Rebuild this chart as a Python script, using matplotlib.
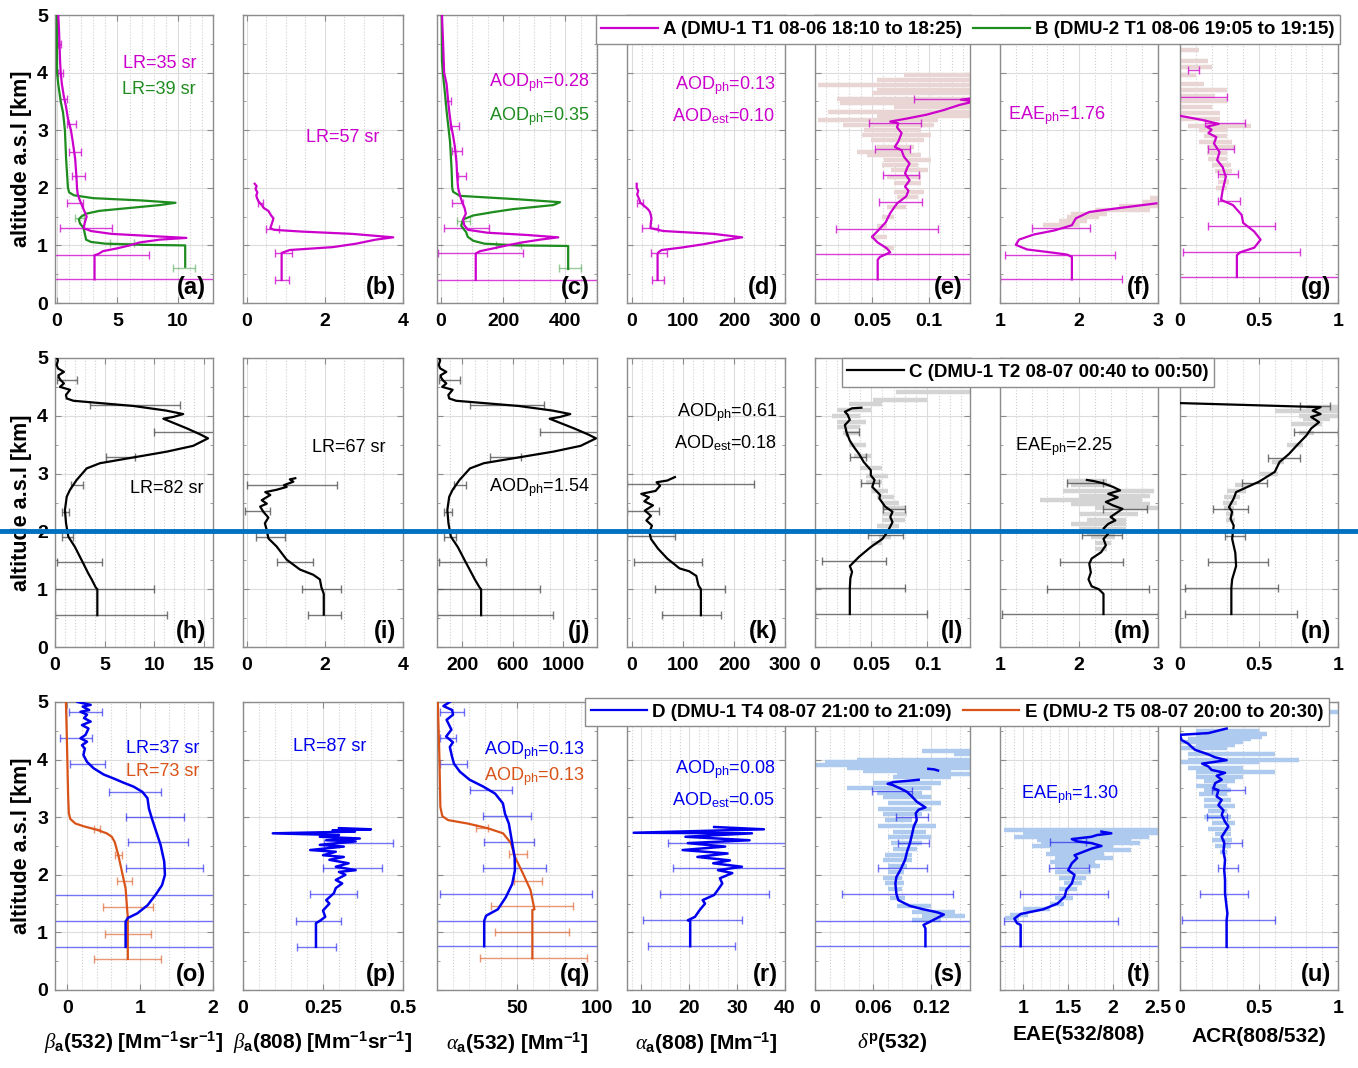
import numpy as np
import matplotlib
matplotlib.use('Agg')
import matplotlib.pyplot as plt
from matplotlib.ticker import AutoMinorLocator, MultipleLocator, FuncFormatter
from matplotlib.lines import Line2D

plt.rcParams['font.family'] = 'Liberation Sans'
plt.rcParams['font.weight'] = 'bold'
plt.rcParams['mathtext.fontset'] = 'custom'
plt.rcParams['mathtext.rm'] = 'Liberation Sans:bold'
plt.rcParams['mathtext.sf'] = 'Liberation Sans:normal'
plt.rcParams['mathtext.it'] = 'Liberation Serif:italic:normal'
plt.rcParams['mathtext.bf'] = 'Liberation Sans:bold'

MAG = '#CC00CC'
GRN = '#1E8C1E'
BLU = '#0000EE'
ORG = '#D95319'
PINK = '#EAD5D5'
GREY = '#D4D4D4'
LBLU = '#AECBEF'

# ---------------- row 1 : A (magenta) and B (green) ----------------
a_alt_A = [0.41, 0.83, 0.85, 0.90, 0.95, 1.00, 1.05, 1.10, 1.13, 1.16, 1.20, 1.25, 1.30, 1.40, 1.50, 1.60, 1.70, 1.80, 1.90, 2.00, 2.20, 2.50, 2.80, 3.00, 3.20, 3.40, 3.60, 3.80, 4.00, 4.20, 4.50, 4.80, 5.00]
a_val_A = [3.1, 3.1, 3.4, 3.8, 5.0, 6.0, 6.8, 8.5, 10.7, 8.0, 4.5, 2.8, 2.2, 2.3, 2.45, 2.25, 2.05, 1.85, 1.7, 1.65, 1.6, 1.5, 1.3, 1.15, 0.9, 0.75, 0.55, 0.4, 0.3, 0.25, 0.2, 0.15, 0.1]
a_alt_B = [0.63, 1.00, 1.01, 1.03, 1.06, 1.10, 1.20, 1.30, 1.38, 1.45, 1.50, 1.55, 1.60, 1.65, 1.70, 1.74, 1.78, 1.82, 1.87, 1.92, 2.00, 2.50, 3.00, 3.30, 3.50, 3.80, 4.00, 4.50, 5.00]
a_val_B = [10.6, 10.6, 7.0, 4.0, 2.8, 2.4, 2.3, 2.2, 1.9, 1.8, 2.0, 2.4, 3.5, 6.0, 8.5, 9.8, 7.0, 3.0, 1.4, 1.0, 0.9, 0.75, 0.65, 0.5, 0.3, 0.1, 0.0, 0.0, 0.0]
a_err_alt_A = [0.41, 0.83, 1.30, 1.74, 2.20, 2.63, 3.10, 3.55, 4.00, 4.50]
a_err_lo_A = [-5, -0.3, 0.25, 0.8, 1.21, 0.96, 0.8, 0.25, 0.1, 0.05]
a_err_hi_A = [20, 7.6, 4.52, 2.12, 2.31, 1.96, 1.6, 0.8, 0.5, 0.3]
a_err_alt_B = [0.60, 1.04, 1.48]
a_err_lo_B = [9.6, 4.4, 1.5]
a_err_hi_B = [11.4, 6.4, 2.2]

b_alt = [0.40, 0.87, 0.92, 0.97, 1.03, 1.10, 1.14, 1.20, 1.24, 1.27, 1.30, 1.40, 1.47, 1.52, 1.60, 1.65, 1.70, 1.76, 1.82, 1.87, 1.92, 1.98, 2.03, 2.07]
b_val = [0.89, 0.89, 1.1, 2.2, 2.8, 3.3, 3.75, 2.7, 1.4, 0.7, 0.6, 0.65, 0.68, 0.62, 0.55, 0.43, 0.38, 0.3, 0.26, 0.24, 0.27, 0.22, 0.25, 0.2]
b_err_alt = [0.40, 0.87, 1.28, 1.73]
b_err_lo = [0.72, 0.72, 0.5, 0.28]
b_err_hi = [1.08, 1.15, 0.82, 0.4]

c_alt_A = [0.40, 0.86, 0.90, 0.95, 1.00, 1.05, 1.10, 1.14, 1.18, 1.22, 1.27, 1.35, 1.45, 1.55, 1.65, 1.75, 1.85, 2.00, 2.20, 2.43, 2.70, 2.90, 3.10, 3.30, 3.50, 3.80, 4.00, 4.30, 4.60, 5.00]
c_val_A = [112, 112, 126, 170, 212, 260, 319, 378, 280, 150, 87, 75, 71, 80, 76, 68, 62, 55, 52, 50, 45, 39, 32, 27, 23, 18, 10, 8, 6, 3]
c_alt_B = [0.59, 0.99, 1.00, 1.03, 1.08, 1.15, 1.23, 1.34, 1.45, 1.52, 1.58, 1.63, 1.70, 1.75, 1.80, 1.86, 1.93, 2.00, 2.33, 2.80, 3.33, 3.62, 3.88, 4.20, 5.00]
c_val_B = [410, 410, 250, 140, 104, 86, 81, 65, 71, 104, 170, 233, 362, 384, 250, 61, 39, 36, 34, 29, 18, 13, 8, 3, 2]
c_err_alt_A = [0.40, 0.86, 1.30, 1.74, 2.20, 2.64, 3.07, 3.50]
c_err_lo_A = [-50, -10, 11, 34, 56, 34, 29, 13]
c_err_hi_A = [600, 265, 155, 72, 81, 67, 58, 31]
c_err_alt_B = [0.60, 1.00, 1.43]
c_err_lo_B = [380, 178, 52]
c_err_hi_B = [450, 257, 95]

d_alt = [0.40, 0.86, 0.89, 0.92, 0.96, 1.02, 1.10, 1.14, 1.20, 1.25, 1.30, 1.40, 1.46, 1.52, 1.58, 1.63, 1.70, 1.74, 1.80, 1.88, 1.95, 2.00, 2.07]
d_val = [50, 50, 53, 58, 95, 140, 187, 216, 160, 61, 36, 37, 38, 37, 35, 31, 22, 16, 14, 10, 12, 9, 9]
d_err_alt = [0.40, 0.86, 1.30, 1.74]
d_err_lo = [39, 38, 20, 10]
d_err_hi = [62, 68, 50, 22]

e_alt = [0.41, 0.75, 0.80, 0.88, 0.95, 1.05, 1.15, 1.25, 1.40, 1.56, 1.73, 1.85, 1.95, 2.02, 2.13, 2.25, 2.35, 2.42, 2.54, 2.65, 2.71, 2.80, 2.95, 3.05, 3.12, 3.15, 3.20, 3.27, 3.35, 3.44, 3.50, 3.53, 3.56]
e_val = [0.055, 0.055, 0.057, 0.066, 0.063, 0.055, 0.050, 0.055, 0.062, 0.066, 0.072, 0.080, 0.082, 0.079, 0.083, 0.079, 0.081, 0.083, 0.078, 0.076, 0.070, 0.073, 0.076, 0.072, 0.073, 0.066, 0.080, 0.098, 0.113, 0.127, 0.140, 0.128, 0.140]
e_err_alt = [0.41, 0.85, 1.29, 1.75, 2.22, 2.67, 3.13, 3.54]
e_err_lo = [-1, -1, 0.018, 0.056, 0.060, 0.053, 0.047, 0.087]
e_err_hi = [1, 1, 0.108, 0.094, 0.091, 0.083, 0.093, 0.2]
e_sh_alt = [0.95, 1.15, 1.33, 1.50, 1.67, 1.84, 1.93, 2.08, 2.19, 2.31, 2.40, 2.48, 2.57, 2.63, 2.71, 2.83, 2.92, 3.00, 3.09, 3.18, 3.24, 3.32, 3.41, 3.47, 3.55, 3.64, 3.70, 3.78, 3.87, 3.96]
e_sh_lo = [0.0605, 0.0487, 0.0546, 0.059, 0.0634, 0.0723, 0.0693, 0.0693, 0.0634, 0.0664, 0.059, 0.0605, 0.0457, 0.0369, 0.0546, 0.0487, 0.0413, 0.0428, 0.025, 0.003, 0.0546, 0.0118, 0.0693, 0.022, 0.019, 0.050, 0.0546, 0.003, 0.0546, 0.078]
e_sh_hi = [0.0693, 0.0634, 0.0634, 0.0693, 0.0796, 0.090, 0.0959, 0.093, 0.093, 0.099, 0.090, 0.1018, 0.093, 0.0841, 0.087, 0.0959, 0.1018, 0.093, 0.1047, 0.1077, 0.14, 0.14, 0.14, 0.14, 0.14, 0.14, 0.14, 0.14, 0.14, 0.14]

f_alt = [0.41, 0.80, 0.84, 0.87, 0.93, 1.01, 1.10, 1.19, 1.26, 1.35, 1.47, 1.58, 1.64, 1.73]
f_val = [1.91, 1.91, 1.85, 1.69, 1.34, 1.20, 1.24, 1.43, 1.69, 1.91, 1.96, 2.13, 2.46, 2.98]
f_err_alt = [0.41, 0.84, 1.31]
f_err_lo = [1.0, 1.06, 1.41]
f_err_hi = [2.54, 2.45, 2.14]
f_sh_alt = [1.36, 1.42, 1.50, 1.55, 1.62, 1.68, 1.75, 1.83]
f_sh_lo = [1.55, 1.75, 1.85, 1.9, 2.2, 2.5, 2.8, 2.9]
f_sh_hi = [2.0, 2.1, 2.25, 2.35, 2.9, 3.0, 3.0, 3.0]

g_alt = [0.45, 0.83, 0.88, 0.96, 1.10, 1.24, 1.39, 1.53, 1.70, 1.79, 1.96, 2.19, 2.36, 2.48, 2.62, 2.77, 2.88, 2.95, 3.01, 3.06, 3.11, 3.18, 3.25]
g_val = [0.36, 0.36, 0.38, 0.47, 0.51, 0.47, 0.40, 0.39, 0.335, 0.26, 0.27, 0.29, 0.27, 0.235, 0.25, 0.215, 0.23, 0.18, 0.20, 0.17, 0.245, 0.137, 0.0]
g_err_alt = [0.45, 0.88, 1.33, 1.77, 2.24, 2.67, 3.12, 3.58, 4.05]
g_err_lo = [-1, 0.02, 0.18, 0.24, 0.24, 0.18, 0.16, 0.0, 0.05]
g_err_hi = [2, 0.76, 0.60, 0.38, 0.37, 0.34, 0.41, 0.30, 0.12]
g_sh_alt = [2.0, 2.1, 2.2, 2.3, 2.4, 2.5, 2.6, 2.7, 2.8, 2.9, 3.0, 3.07, 3.2, 3.3, 3.4, 3.5, 3.6, 3.7, 3.8, 3.96, 4.1, 4.2, 4.4, 4.7, 4.85]
g_sh_lo = [0.23, 0.24, 0.25, 0.22, 0.20, 0.18, 0.17, 0.17, 0.12, 0.15, 0.12, 0.05, 0, 0, 0, 0, 0, 0, 0, 0, 0, 0, 0, 0, 0]
g_sh_hi = [0.30, 0.31, 0.30, 0.33, 0.32, 0.30, 0.30, 0.35, 0.33, 0.30, 0.30, 0.45, 0.25, 0.25, 0.20, 0.30, 0.22, 0.30, 0.15, 0.10, 0.20, 0.18, 0.12, 0.10, 0.12]

# ---------------- row 2 : C (black) ----------------
h_alt = [0.55, 1.00, 1.03, 1.17, 1.27, 1.50, 1.73, 1.91, 2.14, 2.37, 2.60, 2.72, 2.89, 3.09, 3.18, 3.28, 3.38, 3.48, 3.61, 3.68, 3.78, 3.90, 3.95, 3.98, 4.03, 4.09, 4.17, 4.22, 4.26, 4.30, 4.36, 4.45, 4.50, 4.56, 4.62, 4.66, 4.70, 4.76, 4.82, 4.88, 4.96, 5.00]
h_val = [4.26, 4.26, 4.1, 3.69, 3.36, 2.69, 2.01, 1.34, 1.11, 1.0, 1.18, 1.51, 2.18, 3.19, 4.53, 7.9, 11.25, 13.9, 15.4, 14.6, 13.3, 11.6, 10.9, 11.9, 12.9, 11.2, 7.9, 4.53, 1.85, 1.18, 1.1, 1.51, 0.5, 0.9, 0.55, 0.4, 0.34, 0.9, 0.3, 0.17, 0.3, 0.2]
h_err_alt = [0.55, 1.00, 1.47, 1.91, 2.34, 2.80, 3.28, 3.72, 4.19, 4.62]
h_err_lo = [0, 0, 0.2, 0.7, 0.7, 1.6, 5.1, 10.0, 3.5, 0.2]
h_err_hi = [11.25, 10.0, 4.7, 1.8, 1.45, 2.8, 8.1, 16.5, 12.6, 2.2]

i_alt = [0.56, 0.92, 1.03, 1.17, 1.25, 1.34, 1.51, 1.74, 1.88, 2.02, 2.14, 2.24, 2.34, 2.43, 2.48, 2.54, 2.63, 2.68, 2.72, 2.77, 2.80, 2.86, 2.90, 2.92]
i_val = [1.97, 1.97, 1.91, 1.87, 1.70, 1.36, 1.02, 0.76, 0.55, 0.51, 0.46, 0.55, 0.42, 0.34, 0.51, 0.38, 0.60, 0.47, 0.76, 1.02, 0.95, 1.19, 1.10, 1.24]
i_err_alt = [0.56, 1.00, 1.47, 1.91, 2.36, 2.81]
i_err_lo = [1.57, 1.42, 0.76, 0.24, -0.05, 0.0]
i_err_hi = [2.4, 2.4, 1.7, 0.97, 0.6, 2.3]

j_alt = [0.55, 1.00, 1.03, 1.17, 1.27, 1.50, 1.73, 1.91, 2.14, 2.37, 2.60, 2.72, 2.89, 3.09, 3.18, 3.28, 3.38, 3.48, 3.61, 3.68, 3.78, 3.90, 3.95, 3.98, 4.03, 4.09, 4.17, 4.22, 4.26, 4.30, 4.36, 4.45, 4.50, 4.56, 4.62, 4.66, 4.70, 4.76, 4.82, 4.88, 4.96, 5.00]
j_val = [350, 350, 338, 300, 276, 220, 165, 110, 91, 82, 97, 124, 179, 262, 372, 648, 923, 1140, 1262, 1197, 1090, 951, 894, 976, 1058, 918, 648, 372, 152, 97, 90, 124, 41, 74, 45, 33, 28, 74, 25, 14, 25, 16]
j_err_alt = [0.55, 1.00, 1.47, 1.91, 2.34, 2.80, 3.28, 3.72, 4.19, 4.62]
j_err_lo = [0, 0, 16, 57, 57, 131, 418, 820, 260, 16]
j_err_hi = [923, 820, 385, 148, 119, 230, 664, 1350, 850, 180]

k_alt = [0.55, 1.00, 1.07, 1.23, 1.31, 1.36, 1.53, 1.70, 1.87, 1.99, 2.10, 2.19, 2.27, 2.36, 2.45, 2.52, 2.59, 2.65, 2.70, 2.79, 2.85, 2.88, 2.94]
k_val = [135, 135, 130, 126, 112, 93, 69, 51, 37, 34, 39, 28, 37, 25, 41, 24, 33, 18, 46, 55, 48, 69, 84]
k_err_alt = [0.55, 1.00, 1.47, 1.92, 2.36, 2.82]
k_err_lo = [58, 44, 4, -10, -10, -10]
k_err_hi = [174, 182, 138, 85, 53, 239]

l_alt = [0.57, 1.02, 1.19, 1.30, 1.40, 1.56, 1.73, 1.87, 1.99, 2.16, 2.25, 2.34, 2.43, 2.57, 2.63, 2.77, 2.89, 2.97, 3.06, 3.20, 3.34, 3.45, 3.57, 3.72, 3.84, 3.93, 4.02, 4.07, 4.13, 4.14]
l_val = [0.031, 0.031, 0.0315, 0.033, 0.031, 0.0392, 0.0497, 0.060, 0.0645, 0.069, 0.067, 0.069, 0.0624, 0.0573, 0.058, 0.051, 0.053, 0.0497, 0.0497, 0.0434, 0.0392, 0.035, 0.031, 0.028, 0.0266, 0.031, 0.029, 0.0266, 0.033, 0.0413]
l_err_alt = [0.57, 1.02, 1.49, 1.93, 2.38, 2.83, 3.29, 3.72]
l_err_lo = [0, 0, 0.006, 0.047, 0.0607, 0.0413, 0.031, 0.028]
l_err_hi = [0.1, 0.08, 0.0628, 0.078, 0.0804, 0.0573, 0.045, 0.039]
l_sh_alt = [1.8, 1.9, 2.0, 2.1, 2.2, 2.3, 2.4, 2.5, 2.6, 2.7, 2.85, 2.95, 3.1, 3.3, 3.5, 3.7, 3.8, 3.9, 4.0, 4.1, 4.2, 4.28, 4.42]
l_sh_lo = [0.05, 0.057, 0.058, 0.055, 0.06, 0.06, 0.06, 0.06, 0.055, 0.05, 0.045, 0.045, 0.04, 0.035, 0.03, 0.025, 0.02, 0.02, 0.015, 0.02, 0.03, 0.052, 0.072]
l_sh_hi = [0.06, 0.068, 0.07, 0.075, 0.08, 0.082, 0.08, 0.075, 0.07, 0.065, 0.06, 0.065, 0.06, 0.05, 0.045, 0.04, 0.04, 0.045, 0.04, 0.05, 0.06, 0.10, 0.142]

m_alt = [0.57, 0.92, 1.00, 1.05, 1.17, 1.29, 1.44, 1.53, 1.64, 1.76, 1.87, 1.96, 2.05, 2.13, 2.19, 2.25, 2.39, 2.45, 2.51, 2.59, 2.65, 2.71, 2.77, 2.83, 2.87, 2.89]
m_val = [2.31, 2.31, 2.25, 2.16, 2.12, 2.15, 2.13, 2.16, 2.28, 2.34, 2.31, 2.37, 2.31, 2.37, 2.46, 2.40, 2.55, 2.43, 2.34, 2.49, 2.37, 2.52, 2.43, 2.31, 2.19, 2.10]
m_err_alt = [0.57, 1.00, 1.47, 1.93, 2.39, 2.84]
m_err_lo = [1.02, 1.59, 1.76, 2.04, 2.31, 1.85]
m_err_hi = [3.0, 2.88, 2.56, 2.54, 2.86, 2.30]
m_sh_alt = [1.70, 1.80, 1.90, 1.98, 2.05, 2.12, 2.20, 2.30, 2.40, 2.47, 2.55, 2.62, 2.70, 2.80, 2.88]
m_sh_lo = [2.2, 2.2, 2.15, 2.1, 2.0, 1.9, 2.1, 2.0, 2.2, 1.9, 1.5, 2.0, 1.8, 1.9, 1.85]
m_sh_hi = [2.35, 2.4, 2.45, 2.45, 2.6, 2.6, 2.6, 2.75, 3.0, 2.9, 2.8, 2.9, 2.95, 2.4, 2.35]

n_alt = [0.57, 1.02, 1.17, 1.40, 1.63, 1.87, 2.10, 2.22, 2.34, 2.42, 2.57, 2.68, 2.86, 3.03, 3.20, 3.34, 3.49, 3.66, 3.78, 3.89, 3.98, 4.03, 4.09, 4.15, 4.22]
n_val = [0.325, 0.325, 0.33, 0.355, 0.35, 0.33, 0.34, 0.32, 0.33, 0.31, 0.34, 0.355, 0.50, 0.60, 0.63, 0.69, 0.74, 0.80, 0.83, 0.88, 0.83, 0.89, 0.84, 0.89, 0.0]
n_err_alt = [0.57, 1.02, 1.47, 1.92, 2.38, 2.83, 3.27, 3.72, 4.17]
n_err_lo = [0.03, 0.03, 0.18, 0.285, 0.21, 0.39, 0.56, 0.72, 0.76]
n_err_hi = [0.74, 0.62, 0.56, 0.41, 0.43, 0.55, 0.76, 1.0, 0.95]
n_sh_alt = [2.2, 2.3, 2.4, 2.5, 2.6, 2.7, 2.8, 3.0, 3.2, 3.5, 3.7, 3.85, 3.95, 4.0, 4.08, 4.15]
n_sh_lo = [0.29, 0.29, 0.28, 0.27, 0.28, 0.30, 0.35, 0.5, 0.58, 0.68, 0.75, 0.7, 0.78, 0.75, 0.6, 0.8]
n_sh_hi = [0.35, 0.34, 0.34, 0.36, 0.38, 0.42, 0.45, 0.62, 0.66, 0.78, 0.85, 0.9, 0.95, 1.0, 1.0, 1.0]

# ---------------- row 3 : D (blue) and E (orange) ----------------
o_alt_D = [0.75, 1.19, 1.25, 1.33, 1.47, 1.65, 1.82, 2.00, 2.23, 2.52, 2.75, 2.98, 3.15, 3.33, 3.44, 3.53, 3.60, 3.67, 3.74, 3.85, 3.96, 4.08, 4.19, 4.25, 4.31, 4.37, 4.43, 4.54, 4.60, 4.66, 4.72, 4.78, 4.83, 4.86, 4.92, 4.95, 5.00]
o_val_D = [0.80, 0.80, 0.83, 0.96, 1.10, 1.21, 1.30, 1.34, 1.33, 1.28, 1.22, 1.16, 1.12, 1.10, 1.03, 0.91, 0.77, 0.64, 0.50, 0.36, 0.27, 0.22, 0.24, 0.20, 0.27, 0.18, 0.25, 0.29, 0.20, 0.32, 0.23, 0.27, 0.18, 0.30, 0.21, 0.32, 0.14]
o_alt_E = [0.54, 1.27, 1.41, 1.76, 2.05, 2.34, 2.57, 2.66, 2.72, 2.78, 2.84, 2.89, 2.97, 3.07, 3.39, 3.96, 4.50, 5.00]
o_val_E = [0.83, 0.83, 0.82, 0.80, 0.75, 0.70, 0.65, 0.61, 0.54, 0.41, 0.23, 0.11, 0.04, 0.02, 0.01, 0.0, -0.01, -0.02]
o_err_alt_D = [0.75, 1.19, 1.65, 2.11, 2.57, 3.00, 3.44, 3.92, 4.37, 4.82]
o_err_lo_D = [-1, -1, -1, 0.80, 0.83, 0.80, 0.57, 0.04, -0.10, 0.02]
o_err_hi_D = [3, 3, 3, 1.86, 1.65, 1.60, 1.28, 0.52, 0.34, 0.48]
o_err_alt_E = [0.54, 0.98, 1.44, 1.90, 2.34, 2.80]
o_err_lo_E = [0.37, 0.52, 0.49, 0.68, 0.66, 0.36]
o_err_hi_E = [1.28, 1.15, 1.18, 0.89, 0.75, 0.45]

p_alt = [0.75, 1.16, 1.20, 1.27, 1.38, 1.50, 1.56, 1.68, 1.77, 1.85, 1.91, 2.00, 2.05, 2.08, 2.14, 2.20, 2.26, 2.31, 2.34, 2.40, 2.43, 2.49, 2.52, 2.58, 2.60, 2.63, 2.66, 2.69, 2.72, 2.75, 2.77, 2.79, 2.81]
p_val = [0.228, 0.228, 0.24, 0.257, 0.25, 0.27, 0.26, 0.284, 0.29, 0.31, 0.29, 0.32, 0.30, 0.352, 0.29, 0.33, 0.27, 0.315, 0.25, 0.29, 0.21, 0.315, 0.24, 0.352, 0.26, 0.365, 0.24, 0.30, 0.093, 0.35, 0.28, 0.40, 0.30]
p_err_alt = [0.75, 1.20, 1.66, 2.11, 2.56]
p_err_lo = [0.17, 0.165, 0.208, 0.249, 0.254]
p_err_hi = [0.29, 0.305, 0.356, 0.434, 0.47]

q_alt_D = [0.76, 1.20, 1.29, 1.40, 1.61, 1.84, 2.08, 2.31, 2.60, 2.89, 3.06, 3.24, 3.41, 3.53, 3.65, 3.79, 3.93, 4.05, 4.22, 4.30, 4.40, 4.52, 4.69, 4.78, 4.86, 4.93, 5.00]
q_val_D = [29.5, 29.5, 30.7, 38, 43, 47, 48.7, 48.5, 46.7, 44.9, 42.5, 41.2, 36.3, 29, 20.4, 14.3, 10.6, 9.4, 8, 10, 5.7, 9, 6, 10, 9.5, 4, 8]
q_alt_E = [0.55, 1.39, 1.40, 1.74, 2.03, 2.31, 2.55, 2.72, 2.81, 2.89, 2.95, 3.02, 3.18, 4.05, 5.00]
q_val_E = [59.6, 59.6, 60.9, 58.4, 53.6, 48.7, 46.2, 41.3, 31.5, 19.2, 6.9, 3.3, 2.1, 1.5, 0.5]
q_err_alt_D = [0.76, 1.20, 1.66, 2.11, 2.57, 3.02, 3.48, 3.92, 4.37, 4.83]
q_err_lo_D = [-10, -10, 2, 29, 29.5, 28.5, 20.4, 2, 2, 2]
q_err_hi_D = [200, 200, 97, 68.4, 60.9, 58.9, 46.7, 18.7, 12, 17]
q_err_alt_E = [0.55, 1.00, 1.45, 1.90, 2.36, 2.81]
q_err_lo_E = [26.6, 36.3, 33.9, 48.2, 45, 24.5]
q_err_hi_E = [93.7, 82.7, 85.2, 65.8, 56, 31.9]

r_alt = [0.76, 1.20, 1.21, 1.27, 1.39, 1.50, 1.56, 1.65, 1.74, 1.85, 1.94, 2.03, 2.08, 2.14, 2.20, 2.25, 2.31, 2.37, 2.43, 2.49, 2.55, 2.60, 2.66, 2.72, 2.73, 2.79, 2.83]
r_val = [20.2, 20.2, 19.7, 21.2, 22.2, 23.3, 22.8, 25.2, 26.0, 26.9, 26.4, 29, 26, 31, 25, 28.5, 21.7, 28, 18.6, 27.5, 19.7, 32.6, 19.2, 33.1, 8.4, 35.6, 25.2]
r_err_alt = [0.76, 1.21, 1.66, 2.11, 2.56]
r_err_lo = [11.3, 10.3, 13.8, 16.6, 15.6]
r_err_hi = [29.5, 31, 36.6, 45, 45]

s_alt = [0.76, 1.07, 1.13, 1.18, 1.31, 1.35, 1.40, 1.46, 1.56, 1.67, 1.85, 1.96, 2.08, 2.26, 2.40, 2.55, 2.69, 2.84, 2.95, 3.07, 3.13, 3.17, 3.27, 3.36, 3.44, 3.50, 3.56, 3.58, 3.61, 3.63, 3.65]
s_val = [0.114, 0.114, 0.112, 0.118, 0.133, 0.126, 0.112, 0.098, 0.086, 0.084, 0.083, 0.084, 0.088, 0.093, 0.095, 0.098, 0.100, 0.102, 0.105, 0.104, 0.107, 0.114, 0.105, 0.100, 0.095, 0.088, 0.080, 0.075, 0.081, 0.095, 0.107]
s_alt_top = [3.84, 3.83, 3.81]
s_val_top = [0.117, 0.123, 0.127]
s_err_alt = [0.76, 1.19, 1.66, 2.11, 2.56, 3.01, 3.46]
s_err_lo = [-1, -1, 0.0276, 0.0655, 0.086, 0.0838, 0.0586]
s_err_hi = [1, 1, 0.1424, 0.116, 0.118, 0.117, 0.100]
s_sh_alt = [1.22, 1.28, 1.35, 1.45, 1.60, 1.75, 1.85, 1.95, 2.05, 2.15, 2.25, 2.35, 2.45, 2.55, 2.65, 2.75, 2.85, 2.95, 3.05, 3.15, 3.25, 3.35, 3.42, 3.50, 3.60, 3.70, 3.75, 3.80, 3.86, 3.90, 3.95, 4.00, 4.10, 4.15]
s_sh_lo = [0.10, 0.11, 0.10, 0.085, 0.077, 0.075, 0.072, 0.070, 0.075, 0.075, 0.070, 0.072, 0.080, 0.078, 0.075, 0.080, 0.065, 0.072, 0.070, 0.065, 0.075, 0.070, 0.064, 0.033, 0.060, 0.080, 0.085, 0.050, 0.033, 0.0, 0.010, 0.043, 0.143, 0.110]
s_sh_hi = [0.13, 0.155, 0.145, 0.12, 0.093, 0.090, 0.092, 0.090, 0.092, 0.095, 0.100, 0.100, 0.105, 0.110, 0.120, 0.115, 0.125, 0.100, 0.110, 0.120, 0.130, 0.120, 0.110, 0.120, 0.130, 0.140, 0.160, 0.140, 0.160, 0.160, 0.160, 0.160, 0.160, 0.160]

t_alt = [0.76, 1.13, 1.16, 1.24, 1.32, 1.40, 1.50, 1.62, 1.74, 1.85, 2.00, 2.08, 2.20, 2.29, 2.34, 2.40, 2.46, 2.50, 2.55, 2.58, 2.62, 2.66, 2.69, 2.72, 2.75]
t_val = [0.97, 0.97, 0.93, 0.90, 0.97, 1.22, 1.38, 1.46, 1.48, 1.54, 1.57, 1.50, 1.54, 1.60, 1.57, 1.67, 1.77, 1.87, 1.76, 1.60, 1.54, 1.76, 1.82, 1.98, 1.87]
t_err_alt = [0.76, 1.20, 1.66, 2.11, 2.57]
t_err_lo = [-1, 0.79, 0.96, 1.29, 1.30]
t_err_hi = [3, 2.05, 1.94, 1.73, 1.70]
t_sh_alt = [1.25, 1.30, 1.40, 1.50, 1.60, 1.75, 1.85, 1.95, 2.05, 2.15, 2.22, 2.30, 2.36, 2.43, 2.50, 2.55, 2.60, 2.66, 2.73, 2.78]
t_sh_lo = [0.80, 0.85, 1.00, 1.30, 1.35, 1.40, 1.45, 1.40, 1.35, 1.35, 1.30, 1.35, 1.25, 1.30, 1.10, 1.20, 1.15, 0.90, 1.00, 0.78]
t_sh_hi = [0.95, 1.05, 1.30, 1.45, 1.55, 1.60, 1.65, 1.70, 1.75, 1.85, 1.80, 2.00, 1.90, 2.20, 2.00, 2.30, 2.20, 2.40, 2.50, 2.50]

u_alt = [0.75, 1.21, 1.33, 1.44, 1.68, 1.91, 2.08, 2.26, 2.40, 2.55, 2.66, 2.75, 2.84, 2.92, 3.04, 3.12, 3.21, 3.30, 3.36, 3.47, 3.50, 3.59, 3.65, 3.72, 3.77, 3.82, 3.88, 3.93, 3.97, 3.99, 4.04, 4.09, 4.17, 4.23, 4.28, 4.34, 4.43, 4.46, 4.54]
u_val = [0.295, 0.295, 0.30, 0.295, 0.285, 0.285, 0.28, 0.285, 0.275, 0.28, 0.264, 0.285, 0.306, 0.285, 0.264, 0.275, 0.243, 0.264, 0.232, 0.243, 0.212, 0.222, 0.264, 0.232, 0.285, 0.20, 0.18, 0.14, 0.243, 0.295, 0.222, 0.18, 0.095, 0.07, 0.05, 0.01, 0.0, 0.18, 0.295]
u_err_alt = [0.75, 1.21, 1.67, 2.11, 2.55, 3.01, 3.47]
u_err_lo = [-1, 0.01, 0.127, 0.243, 0.28, 0.17, 0.20]
u_err_hi = [2, 0.60, 0.43, 0.365, 0.39, 0.30, 0.41]
u_sh_alt = [2.40, 2.50, 2.60, 2.70, 2.80, 2.90, 3.00, 3.10, 3.20, 3.30, 3.40, 3.48, 3.55, 3.62, 3.70, 3.78, 3.85, 3.95, 4.00, 4.10, 4.20, 4.25, 4.30, 4.35, 4.40, 4.45, 4.50, 4.82]
u_sh_lo = [0.25, 0.22, 0.20, 0.22, 0.18, 0.20, 0.15, 0.18, 0.15, 0.15, 0.12, 0.15, 0.10, 0.15, 0.10, 0.10, 0.05, 0.0, 0.05, 0.05, 0.0, 0.10, 0.0, 0.05, 0.10, 0.15, 0.10, 0.95]
u_sh_hi = [0.30, 0.32, 0.33, 0.32, 0.32, 0.35, 0.32, 0.30, 0.35, 0.32, 0.30, 0.32, 0.30, 0.35, 0.40, 0.60, 0.40, 0.50, 0.75, 0.60, 0.30, 0.35, 0.40, 0.45, 0.52, 0.55, 0.50, 1.0]

legend_A = 'A (DMU-1 T1 08-06 18:10 to 18:25)'
legend_B = 'B (DMU-2 T1 08-06 19:05 to 19:15)'
legend_C = 'C (DMU-1 T2 08-07 00:40 to 00:50)'
legend_D = 'D (DMU-1 T4 08-07 21:00 to 21:09)'
legend_E = 'E (DMU-2 T5 08-07 20:00 to 20:30)'

# ---------------- layout ----------------
W, H = 1358, 1068
col_px = [(55, 158), (243, 160), (437, 160), (627, 158), (815, 155), (1000, 158), (1180, 158)]
row_px = [(15, 303), (358, 647), (702, 990)]

fig = plt.figure(figsize=(W / 100, H / 100), dpi=100)


def make_ax(r, c):
    x0, w = col_px[c]
    top, bot = row_px[r]
    return fig.add_axes([x0 / W, 1 - bot / H, w / W, (bot - top) / H])


def setup(ax, xlim, xticks, first):
    ax.set_xlim(xlim)
    ax.set_ylim(0, 5)
    ax.set_xticks(xticks)
    ax.xaxis.set_major_formatter(FuncFormatter(lambda v, p: '%g' % v))
    ax.xaxis.set_minor_locator(AutoMinorLocator())
    ax.set_yticks([0, 1, 2, 3, 4, 5])
    ax.yaxis.set_minor_locator(MultipleLocator(0.5))
    ax.grid(True, which='major', color='#dcdcdc', lw=0.8)
    ax.grid(True, which='minor', axis='x', color='#d0d0d0', ls=':', lw=0.8)
    ax.set_axisbelow(True)
    ax.tick_params(which='both', direction='in', top=True, right=True, color='#8c8c8c')
    ax.tick_params(which='major', length=4)
    ax.tick_params(which='minor', axis='y', length=2)
    ax.tick_params(which='minor', axis='x', length=0)
    ax.tick_params(axis='x', labelsize=14, pad=7)
    ax.tick_params(axis='y', labelsize=14, pad=5)
    if not first:
        ax.set_yticklabels([])
    for s in ax.spines.values():
        s.set_color('#8c8c8c')
        s.set_linewidth(1.0)


def prof(ax, alt, val, color, lw=1.6):
    ax.plot(val, alt, color=color, lw=lw, zorder=3)


def ebar(ax, alt, lo, hi, color, alpha=0.75, lw=1.0):
    alt = np.array(alt)
    lo = np.array(lo)
    hi = np.array(hi)
    mid = (lo + hi) / 2
    ax.errorbar(mid, alt, xerr=[mid - lo, hi - mid], fmt='none', ecolor=color,
                elinewidth=lw, capsize=3, capthick=lw, alpha=alpha, zorder=2)


def shade(ax, alt, lo, hi, color):
    ax.hlines(alt, lo, hi, colors=color, lw=3.2, zorder=1)


def note(ax, x, y, s, color, ha='center'):
    ax.text(x, y, s, transform=ax.transAxes, color=color, fontsize=13,
            fontweight='normal', ha=ha, va='center', zorder=5)


def letter(ax, s):
    ax.text(0.955, 0.015, s, transform=ax.transAxes, fontsize=17, ha='right', va='bottom', zorder=5)


# row 1
ax = make_ax(0, 0); setup(ax, (-0.17, 12.9), [0, 5, 10], True)
prof(ax, a_alt_B, a_val_B, GRN); prof(ax, a_alt_A, a_val_A, MAG)
ebar(ax, a_err_alt_A, a_err_lo_A, a_err_hi_A, MAG); ebar(ax, a_err_alt_B, a_err_lo_B, a_err_hi_B, GRN, 0.45)
note(ax, 0.66, 0.83, 'LR=35 sr', MAG); note(ax, 0.66, 0.74, 'LR=39 sr', GRN); letter(ax, '(a)')

ax = make_ax(0, 1); setup(ax, (-0.1, 4), [0, 2, 4], False)
prof(ax, b_alt, b_val, MAG); ebar(ax, b_err_alt, b_err_lo, b_err_hi, MAG)
note(ax, 0.625, 0.576, 'LR=57 sr', MAG); letter(ax, '(b)')

ax = make_ax(0, 2); setup(ax, (-13, 503), [0, 200, 400], False)
prof(ax, c_alt_B, c_val_B, GRN); prof(ax, c_alt_A, c_val_A, MAG)
ebar(ax, c_err_alt_A, c_err_lo_A, c_err_hi_A, MAG); ebar(ax, c_err_alt_B, c_err_lo_B, c_err_hi_B, GRN, 0.45)
note(ax, 0.95, 0.765, r'AOD$_{\mathsf{ph}}$=0.28', MAG, 'right')
note(ax, 0.95, 0.648, r'AOD$_{\mathsf{ph}}$=0.35', GRN, 'right'); letter(ax, '(c)')

ax = make_ax(0, 3); setup(ax, (-10, 300), [0, 100, 200, 300], False)
prof(ax, d_alt, d_val, MAG); ebar(ax, d_err_alt, d_err_lo, d_err_hi, MAG)
note(ax, 0.94, 0.755, r'AOD$_{\mathsf{ph}}$=0.13', MAG, 'right')
note(ax, 0.94, 0.65, r'AOD$_{\mathsf{est}}$=0.10', MAG, 'right'); letter(ax, '(d)')

ax = make_ax(0, 4); setup(ax, (0, 0.136), [0, 0.05, 0.1], False)
shade(ax, e_sh_alt, e_sh_lo, e_sh_hi, PINK)
prof(ax, e_alt, e_val, MAG); ebar(ax, e_err_alt, e_err_lo, e_err_hi, MAG); letter(ax, '(e)')

ax = make_ax(0, 5); setup(ax, (1, 3), [1, 2, 3], False)
shade(ax, f_sh_alt, f_sh_lo, f_sh_hi, PINK)
prof(ax, f_alt, f_val, MAG); ebar(ax, f_err_alt, f_err_lo, f_err_hi, MAG)
note(ax, 0.05, 0.65, r'EAE$_{\mathsf{ph}}$=1.76', MAG, 'left'); letter(ax, '(f)')

ax = make_ax(0, 6); setup(ax, (0, 1), [0, 0.5, 1], False)
shade(ax, g_sh_alt, g_sh_lo, g_sh_hi, PINK)
prof(ax, g_alt, g_val, MAG); ebar(ax, g_err_alt, g_err_lo, g_err_hi, MAG); letter(ax, '(g)')

# row 2
EC = '#4a4a4a'
ax = make_ax(1, 0); setup(ax, (0, 15.9), [0, 5, 10, 15], True)
prof(ax, h_alt, h_val, 'k'); ebar(ax, h_err_alt, h_err_lo, h_err_hi, EC)
note(ax, 0.71, 0.547, 'LR=82 sr', 'k'); letter(ax, '(h)')

ax = make_ax(1, 1); setup(ax, (-0.1, 4), [0, 2, 4], False)
prof(ax, i_alt, i_val, 'k'); ebar(ax, i_err_alt, i_err_lo, i_err_hi, EC)
note(ax, 0.66, 0.692, 'LR=67 sr', 'k'); letter(ax, '(i)')

ax = make_ax(1, 2); setup(ax, (0, 1270), [200, 600, 1000], False)
prof(ax, j_alt, j_val, 'k'); ebar(ax, j_err_alt, j_err_lo, j_err_hi, EC)
note(ax, 0.956, 0.55, r'AOD$_{\mathsf{ph}}$=1.54', 'k', 'right'); letter(ax, '(j)')

ax = make_ax(1, 3); setup(ax, (-10, 300), [0, 100, 200, 300], False)
prof(ax, k_alt, k_val, 'k'); ebar(ax, k_err_alt, k_err_lo, k_err_hi, EC)
note(ax, 0.95, 0.81, r'AOD$_{\mathsf{ph}}$=0.61', 'k', 'right')
note(ax, 0.95, 0.706, r'AOD$_{\mathsf{est}}$=0.18', 'k', 'right'); letter(ax, '(k)')

ax = make_ax(1, 4); setup(ax, (0, 0.138), [0, 0.05, 0.1], False)
shade(ax, l_sh_alt, l_sh_lo, l_sh_hi, GREY)
prof(ax, l_alt, l_val, 'k'); ebar(ax, l_err_alt, l_err_lo, l_err_hi, EC); letter(ax, '(l)')

ax = make_ax(1, 5); setup(ax, (1, 3), [1, 2, 3], False)
shade(ax, m_sh_alt, m_sh_lo, m_sh_hi, GREY)
prof(ax, m_alt, m_val, 'k'); ebar(ax, m_err_alt, m_err_lo, m_err_hi, EC)
note(ax, 0.095, 0.692, r'EAE$_{\mathsf{ph}}$=2.25', 'k', 'left'); letter(ax, '(m)')

ax = make_ax(1, 6); setup(ax, (0, 1), [0, 0.5, 1], False)
shade(ax, n_sh_alt, n_sh_lo, n_sh_hi, GREY)
prof(ax, n_alt, n_val, 'k'); ebar(ax, n_err_alt, n_err_lo, n_err_hi, EC); letter(ax, '(n)')

# row 3
ax = make_ax(2, 0); setup(ax, (-0.17, 2), [0, 1, 2], True)
prof(ax, o_alt_E, o_val_E, ORG); prof(ax, o_alt_D, o_val_D, BLU, 1.8)
ebar(ax, o_err_alt_D, o_err_lo_D, o_err_hi_D, BLU, 0.55); ebar(ax, o_err_alt_E, o_err_lo_E, o_err_hi_E, ORG, 0.6)
note(ax, 0.684, 0.837, 'LR=37 sr', BLU); note(ax, 0.684, 0.757, 'LR=73 sr', ORG); letter(ax, '(o)')

ax = make_ax(2, 1); setup(ax, (0, 0.5), [0, 0.25, 0.5], False)
prof(ax, p_alt, p_val, BLU, 1.8); ebar(ax, p_err_alt, p_err_lo, p_err_hi, BLU, 0.55)
note(ax, 0.544, 0.844, 'LR=87 sr', BLU); letter(ax, '(p)')

ax = make_ax(2, 2); setup(ax, (0, 100), [50, 100], False)
prof(ax, q_alt_E, q_val_E, ORG); prof(ax, q_alt_D, q_val_D, BLU, 1.8)
ebar(ax, q_err_alt_D, q_err_lo_D, q_err_hi_D, BLU, 0.55); ebar(ax, q_err_alt_E, q_err_lo_E, q_err_hi_E, ORG, 0.6)
note(ax, 0.92, 0.833, r'AOD$_{\mathsf{ph}}$=0.13', BLU, 'right')
note(ax, 0.92, 0.74, r'AOD$_{\mathsf{ph}}$=0.13', ORG, 'right'); letter(ax, '(q)')

ax = make_ax(2, 3); setup(ax, (7, 40), [10, 20, 30, 40], False)
prof(ax, r_alt, r_val, BLU, 1.8); ebar(ax, r_err_alt, r_err_lo, r_err_hi, BLU, 0.55)
note(ax, 0.94, 0.764, r'AOD$_{\mathsf{ph}}$=0.08', BLU, 'right')
note(ax, 0.94, 0.66, r'AOD$_{\mathsf{est}}$=0.05', BLU, 'right'); letter(ax, '(r)')

ax = make_ax(2, 4); setup(ax, (0, 0.16), [0, 0.06, 0.12], False)
shade(ax, s_sh_alt, s_sh_lo, s_sh_hi, LBLU)
prof(ax, s_alt, s_val, BLU, 1.8); prof(ax, s_alt_top, s_val_top, BLU, 1.8)
ebar(ax, s_err_alt, s_err_lo, s_err_hi, BLU, 0.55); letter(ax, '(s)')

ax = make_ax(2, 5); setup(ax, (0.74, 2.5), [1, 1.5, 2, 2.5], False)
shade(ax, t_sh_alt, t_sh_lo, t_sh_hi, LBLU)
prof(ax, t_alt, t_val, BLU, 1.8); ebar(ax, t_err_alt, t_err_lo, t_err_hi, BLU, 0.55)
note(ax, 0.13, 0.68, r'EAE$_{\mathsf{ph}}$=1.30', BLU, 'left'); letter(ax, '(t)')

ax = make_ax(2, 6); setup(ax, (0, 1), [0, 0.5, 1], False)
shade(ax, u_sh_alt, u_sh_lo, u_sh_hi, LBLU)
prof(ax, u_alt, u_val, BLU, 1.8); ebar(ax, u_err_alt, u_err_lo, u_err_hi, BLU, 0.55); letter(ax, '(u)')

# axis titles
for top, bot in row_px:
    fig.text(22 / W, 1 - (top + bot) / 2 / H, 'altitude a.s.l [km]', rotation=90,
             ha='center', va='center', fontsize=15.5)

xlabels = [r'$\beta_{\mathrm{a}}$(532) [Mm$^{\mathrm{-1}}$sr$^{\mathrm{-1}}$]',
           r'$\beta_{\mathrm{a}}$(808) [Mm$^{\mathrm{-1}}$sr$^{\mathrm{-1}}$]',
           r'$\alpha_{\mathrm{a}}$(532) [Mm$^{\mathrm{-1}}$]',
           r'$\alpha_{\mathrm{a}}$(808) [Mm$^{\mathrm{-1}}$]',
           r'$\delta^{\mathrm{p}}$(532)',
           'EAE(532/808)',
           'ACR(808/532)']
label_y = [1043, 1043, 1043, 1043, 1043, 1035, 1037]
for c in range(7):
    x0, w = col_px[c]
    fig.text((x0 + w / 2) / W, 1 - label_y[c] / H, xlabels[c], ha='center', va='center', fontsize=15)


# legends
def legend(handles, labels, cx, cy, ncol):
    lg = fig.legend(handles, labels, loc='center', bbox_to_anchor=(cx / W, 1 - cy / H), ncol=ncol,
                    fontsize=13.5, frameon=True, fancybox=False, framealpha=1, edgecolor='#8c8c8c',
                    handlelength=3.0, handletextpad=0.3, columnspacing=0.6, borderpad=0.3,
                    borderaxespad=0)
    lg.get_frame().set_linewidth(1.0)
    return lg


legend([Line2D([], [], color=MAG, lw=1.6), Line2D([], [], color=GRN, lw=1.6)],
       [legend_A, legend_B], 968, 29.5, 2)
legend([Line2D([], [], color='k', lw=1.6)], [legend_C], 1028, 372.5, 1)
legend([Line2D([], [], color=BLU, lw=1.6), Line2D([], [], color=ORG, lw=1.6)],
       [legend_D, legend_E], 957, 712, 2)

# horizontal marker line at 2 km of the middle row
y_line = 1 - (647 - 2 * (647 - 358) / 5) / H
fig.add_artist(Line2D([0, 1], [y_line, y_line], transform=fig.transFigure,
                      color='#0070C0', lw=3.5, zorder=20))

fig.savefig('out.png', dpi=100)
